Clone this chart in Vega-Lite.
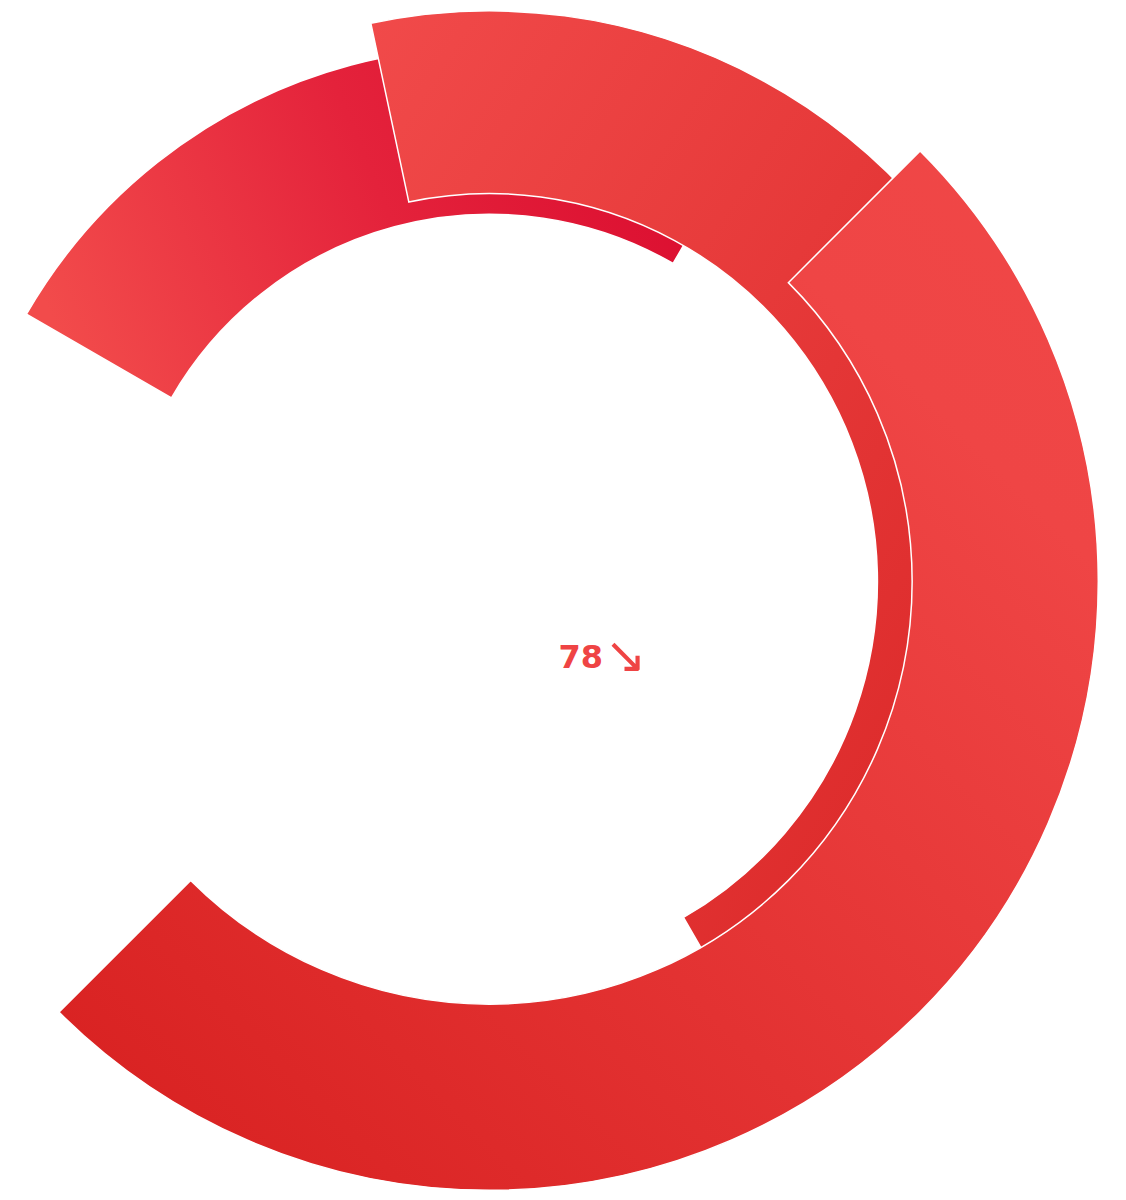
{
  "$schema": "https://vega.github.io/schema/vega-lite/v6.json",
  "width": 979,
  "height": 1163,
  "autosize": {"type": "none"},
  "padding": {"left": 0, "top": 0, "right": 147, "bottom": 37},
  "background": "white",
  "view": {"stroke": null},
  "datasets": {
    "arcs": [
      {"segment": "A", "start": 45, "end": 225, "inner": 69.4, "outer": 100},
      {"segment": "B", "start": -12, "end": 150, "inner": 63.7, "outer": 93.7},
      {"segment": "C", "start": -60, "end": 30, "inner": 60.3, "outer": 87.8}
    ],
    "kpi": [{"label": "78", "trend": "↘"}]
  },
  "layer": [
    {
      "data": {"name": "arcs"},
      "transform": [{"filter": "datum.segment === 'C'"}],
      "mark": {
        "type": "arc",
        "stroke": "white",
        "strokeWidth": 1.5,
        "fill": {
          "gradient": "linear", "x1": 0, "y1": 0.6, "x2": 1, "y2": 0.4,
          "stops": [
            {"offset": 0, "color": "#f24b4b"},
            {"offset": 0.5, "color": "#e4223b"},
            {"offset": 1, "color": "#da0a2e"}
          ]
        }
      },
      "encoding": {
        "theta": {"field": "start", "type": "quantitative", "stack": null, "scale": {"type": "linear", "domain": [0, 360], "range": [0, 6.283185307]}},
        "theta2": {"field": "end"},
        "radius": {"field": "outer", "type": "quantitative", "scale": {"type": "linear", "domain": [0, 100], "range": [0, 609], "zero": true}},
        "radius2": {"field": "inner"}
      }
    },
    {
      "data": {"name": "arcs"},
      "transform": [{"filter": "datum.segment === 'B'"}],
      "mark": {
        "type": "arc",
        "stroke": "white",
        "strokeWidth": 1.5,
        "fill": {
          "gradient": "linear", "x1": 0, "y1": 0, "x2": 1, "y2": 1,
          "stops": [
            {"offset": 0, "color": "#f14a4a"},
            {"offset": 1, "color": "#d72222"}
          ]
        }
      },
      "encoding": {
        "theta": {"field": "start", "type": "quantitative", "stack": null, "scale": {"type": "linear", "domain": [0, 360], "range": [0, 6.283185307]}},
        "theta2": {"field": "end"},
        "radius": {"field": "outer", "type": "quantitative", "scale": {"type": "linear", "domain": [0, 100], "range": [0, 609], "zero": true}},
        "radius2": {"field": "inner"}
      }
    },
    {
      "data": {"name": "arcs"},
      "transform": [{"filter": "datum.segment === 'A'"}],
      "mark": {
        "type": "arc",
        "stroke": "white",
        "strokeWidth": 1.5,
        "fill": {
          "gradient": "linear", "x1": 0, "y1": 1, "x2": 1, "y2": 0,
          "stops": [
            {"offset": 0, "color": "#d71f1f"},
            {"offset": 0.8, "color": "#ef4545"},
            {"offset": 1, "color": "#f04747"}
          ]
        }
      },
      "encoding": {
        "theta": {"field": "start", "type": "quantitative", "stack": null, "scale": {"type": "linear", "domain": [0, 360], "range": [0, 6.283185307]}},
        "theta2": {"field": "end"},
        "radius": {"field": "outer", "type": "quantitative", "scale": {"type": "linear", "domain": [0, 100], "range": [0, 609], "zero": true}},
        "radius2": {"field": "inner"}
      }
    },
    {
      "data": {"name": "kpi"},
      "mark": {
        "type": "text",
        "font": "DejaVu Sans",
        "fontWeight": "bold",
        "fontSize": 32,
        "color": "#ef4444",
        "align": "left",
        "baseline": "alphabetic",
        "dx": 69,
        "dy": 86.5
      },
      "encoding": {"text": {"field": "label"}}
    },
    {
      "data": {"name": "kpi"},
      "mark": {
        "type": "text",
        "font": "DejaVu Sans",
        "fontWeight": "normal",
        "fontSize": 50,
        "color": "#ef4444",
        "align": "left",
        "baseline": "alphabetic",
        "dx": 115,
        "dy": 90
      },
      "encoding": {"text": {"field": "trend"}}
    }
  ]
}
